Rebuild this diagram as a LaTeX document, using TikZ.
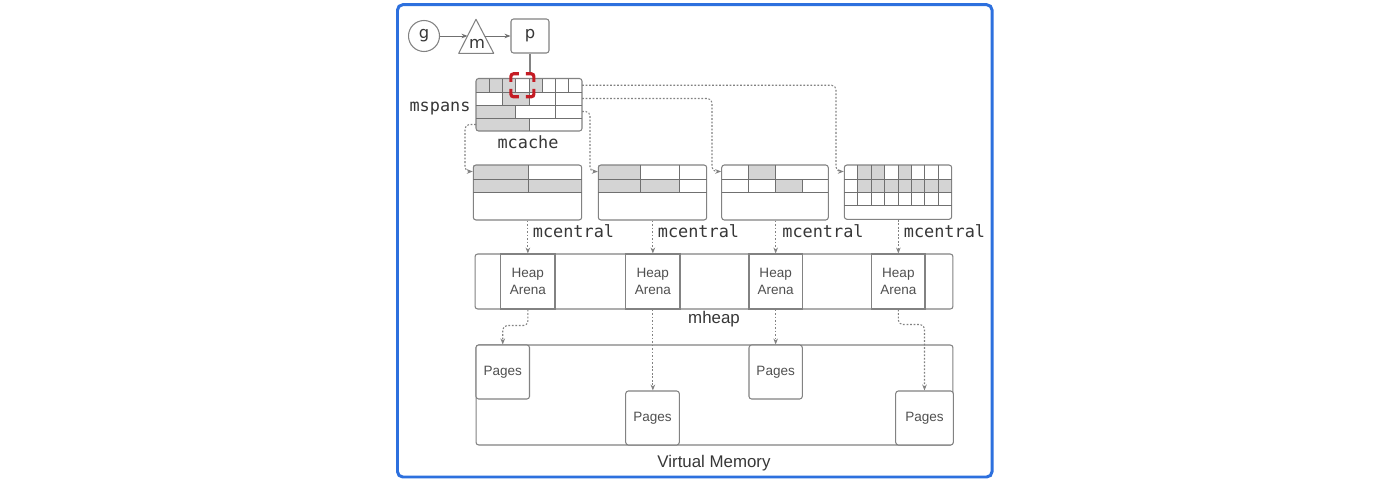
\documentclass[tikz,border=0pt]{standalone}
\usepackage{fontspec}
\setmainfont{Liberation Sans}
\newfontfamily\monof{DejaVu Sans Mono}
\newfontfamily\dvs{DejaVu Sans}
\usetikzlibrary{arrows.meta,calc}
\definecolor{lc}{RGB}{130,130,130}
\definecolor{gl}{RGB}{112,112,112}
\definecolor{gf}{RGB}{212,212,212}
\definecolor{tc}{RGB}{55,55,55}
\definecolor{tl}{RGB}{80,80,80}
\definecolor{rc}{RGB}{196,28,36}
\definecolor{fc}{RGB}{45,112,222}
\tikzset{
  box/.style={draw=lc, line width=0.6pt, rounded corners=1.5pt, inner sep=0pt},
  wbox/.style={box, fill=white},
  sqbox/.style={draw=lc, line width=0.6pt, inner sep=0pt},
  gline/.style={draw=gl, line width=0.55pt},
  conn/.style={draw=lc, line width=0.6pt, dash pattern=on 1pt off 1pt, rounded corners=2.5pt, -{Stealth[length=3.4pt,width=2.6pt]}},
  sarrow/.style={draw=gl, line width=0.5pt, -{Stealth[length=3.4pt,width=2.6pt]}},
  sanslbl/.style={text=tl, font=\fontsize{7.7}{9.5}\selectfont, align=center},
  monolbl/.style={text=tc, font=\monof\fontsize{9.6}{11}\selectfont, inner sep=0pt},
  biglbl/.style={text=tc, font=\fontsize{9.6}{11}\selectfont, inner sep=0pt},
  redmark/.style={draw=rc, line width=1.8pt, rounded corners=1.5pt}
}
\begin{document}
\begin{tikzpicture}[x=0.02cm,y=-0.02cm]
\fill[white] (0,0) rectangle (1400,480);
\useasboundingbox (0,0) rectangle (1400,480);

% frame
\draw[fc, line width=1.7pt, rounded corners=3pt] (397.5,4.7) rectangle (992,477);

% g -> m -> p
\node[circle, draw=lc, line width=0.6pt, minimum size=0.62cm, inner sep=0pt, text=tc, font=\dvs\fontsize{9.3}{10}\selectfont] (g) at (424,36) {g};
\draw[lc, line width=0.6pt, line join=round] (476,19.3) -- (493.7,53.3) -- (458.7,53.3) -- cycle;
\node[text=tc, font=\dvs\fontsize{9.3}{10}\selectfont, inner sep=0pt] (m) at (477,44) {m};
\coordinate (mL) at (467.5,36);
\coordinate (mR) at (484.5,36);
\node[box, minimum width=0.76cm, minimum height=0.68cm, text=tc, font=\dvs\fontsize{9.3}{10}\selectfont] (p) at (530,36) {p};
\draw[sarrow] (g) -- (mL);
\draw[sarrow] (mR) -- (p);

% mcache grid
\fill[gf] (476,78.5) rectangle (515.75,92);
\fill[gf] (529,78.5) rectangle (542.25,92);
\fill[gf] (502.5,92) rectangle (529,105);
\fill[gf] (476,105) rectangle (515.75,118);
\fill[gf] (476,118) rectangle (529,131);
\node[box, minimum width=2.12cm, minimum height=1.05cm] (mc) at (529,104.75) {};
\foreach \yy in {92,105,118} \draw[gline] (476,\yy) -- (582,\yy);
\foreach \xx in {489.25,502.5,515.75,529,542.25,555.5,568.75} \draw[gline] (\xx,78.5) -- (\xx,92);
\foreach \xx in {502.5,529,555.5} \draw[gline] (\xx,92) -- (\xx,105);
\foreach \xx in {515.75,555.5} \draw[gline] (\xx,105) -- (\xx,118);
\draw[gline] (529,118) -- (529,131);
\coordinate (m1e) at (582,85.25);
\coordinate (m2e) at (582,98.5);
\coordinate (m3e) at (582,111.5);
\coordinate (m4w) at (476,124.5);

% red highlight
\fill[white] (517,80) rectangle (528,91);
\coordinate (rtop) at (529.5,73.8);
\draw[lc, line width=0.6pt] (p.south) -- (p.south |- rtop);
\draw[redmark] (510.9,81.8) -- (510.9,73.8) -- (518.9,73.8);
\draw[redmark] (525.9,73.8) -- (533.9,73.8) -- (533.9,81.8);
\draw[redmark] (533.9,88.8) -- (533.9,96.8) -- (525.9,96.8);
\draw[redmark] (518.9,96.8) -- (510.9,96.8) -- (510.9,88.8);

\node[monolbl, anchor=base] (lspans) at (440,111.5) {mspans};
\node[monolbl, anchor=base] (lcache) at (528,148.3) {mcache};

% mcentral 1
\fill[gf] (473.3,165) rectangle (528.3,179.3);
\fill[gf] (473.3,179.3) rectangle (581.7,192.7);
\node[box, minimum width=2.168cm, minimum height=1.1cm] (c1) at (527.5,192.5) {};
\foreach \yy in {179.3,192.7} \draw[gline] (473.3,\yy) -- (581.7,\yy);
\draw[gline] (528.3,165) -- (528.3,192.7);

% mcentral 2
\fill[gf] (598.3,165) rectangle (640,179.3);
\fill[gf] (598.3,179.3) rectangle (679.3,192.7);
\node[box, minimum width=2.168cm, minimum height=1.1cm] (c2) at (652.5,192.5) {};
\foreach \yy in {179.3,192.7} \draw[gline] (598.3,\yy) -- (706.7,\yy);
\foreach \xx in {640,679.3} \draw[gline] (\xx,165) -- (\xx,192.7);

% mcentral 3
\fill[gf] (748.6,165) rectangle (775.3,179.3);
\fill[gf] (775.3,179.3) rectangle (802,192.7);
\node[box, minimum width=2.132cm, minimum height=1.1cm] (c3) at (775,192.5) {};
\foreach \yy in {179.3,192.7} \draw[gline] (721.7,\yy) -- (828.3,\yy);
\foreach \xx in {748.6,775.3} \draw[gline] (\xx,165) -- (\xx,192.7);
\draw[gline] (802,179.3) -- (802,192.7);

% mcentral 4
\foreach \k in {1,2,4} \fill[gf] ({844.3+\k*13.425},165) rectangle ({844.3+(\k+1)*13.425},179.3);
\fill[gf] (857.725,179.3) rectangle (951.7,192);
\node[box, minimum width=2.148cm, minimum height=1.086cm] (c4) at (898,192.15) {};
\foreach \yy in {179.3,192,205} \draw[gline] (844.3,\yy) -- (951.7,\yy);
\foreach \k in {1,...,7} \draw[gline] ({844.3+\k*13.425},165) -- ({844.3+\k*13.425},205);

% mcache -> mcentral
\draw[conn] (m4w) -- ++(-11,0) |- ($(c1.north west)+(0,7)$);
\draw[conn] (m3e) -- ++(8,0) |- ($(c2.north west)+(0,7)$);
\draw[conn] (m2e) -- (712,98.5) |- ($(c3.north west)+(0,7)$);
\draw[conn] (m1e) -- (836,85.25) |- ($(c4.north west)+(0,7)$);

\node[monolbl, anchor=base west] (lc1) at (532.5,237) {mcentral};
\node[monolbl, anchor=base west] (lc2) at (657.5,237) {mcentral};
\node[monolbl, anchor=base west] (lc3) at (782,237) {mcentral};
\node[monolbl, anchor=base west] (lc4) at (903.5,237) {mcentral};

% mheap
\node[box, minimum width=9.56cm, minimum height=1.1cm] (mheap) at (714,281.5) {};
\node[sqbox, minimum width=1.086cm, minimum height=1.1cm, sanslbl] (a1) at (527.85,281.5) {Heap\\Arena};
\node[sqbox, minimum width=1.086cm, minimum height=1.1cm, sanslbl] (a2) at (652.85,281.5) {Heap\\Arena};
\node[sqbox, minimum width=1.066cm, minimum height=1.1cm, sanslbl] (a3) at (775.65,281.5) {Heap\\Arena};
\node[sqbox, minimum width=1.066cm, minimum height=1.1cm, sanslbl] (a4) at (898.35,281.5) {Heap\\Arena};
\node[biglbl, anchor=base] (lheap) at (714,323.3) {mheap};

\draw[conn] (c1.south -| a1.north) -- (a1.north);
\draw[conn] (c2.south -| a2.north) -- (a2.north);
\draw[conn] (c3.south -| a3.north) -- (a3.north);
\draw[conn] (c4.south -| a4.north) -- (a4.north);

% virtual memory
\node[box, minimum width=9.54cm, minimum height=2cm] (vm) at (714.5,395) {};
\node[wbox, minimum width=1.07cm, minimum height=1.08cm, sanslbl] (pg1) at (502.75,372) {Pages};
\node[wbox, minimum width=1.072cm, minimum height=1.08cm, sanslbl] (pg2) at (652.5,418) {Pages};
\node[wbox, minimum width=1.066cm, minimum height=1.08cm, sanslbl] (pg3) at (775.65,372) {Pages};
\node[wbox, minimum width=1.152cm, minimum height=1.08cm, sanslbl] (pg4) at (924.5,418) {Pages};
\node[biglbl, anchor=base] (lvm) at (714,467.3) {Virtual Memory};

\draw[conn] (a1.south) -- ++(0,16) -| (pg1.north);
\draw[conn] (a2.south) -- (a2.south |- pg2.north);
\draw[conn] (a3.south) -- (a3.south |- pg3.north);
\draw[conn] (a4.south) -- ++(0,15) -| (pg4.north);
\end{tikzpicture}
\end{document}
